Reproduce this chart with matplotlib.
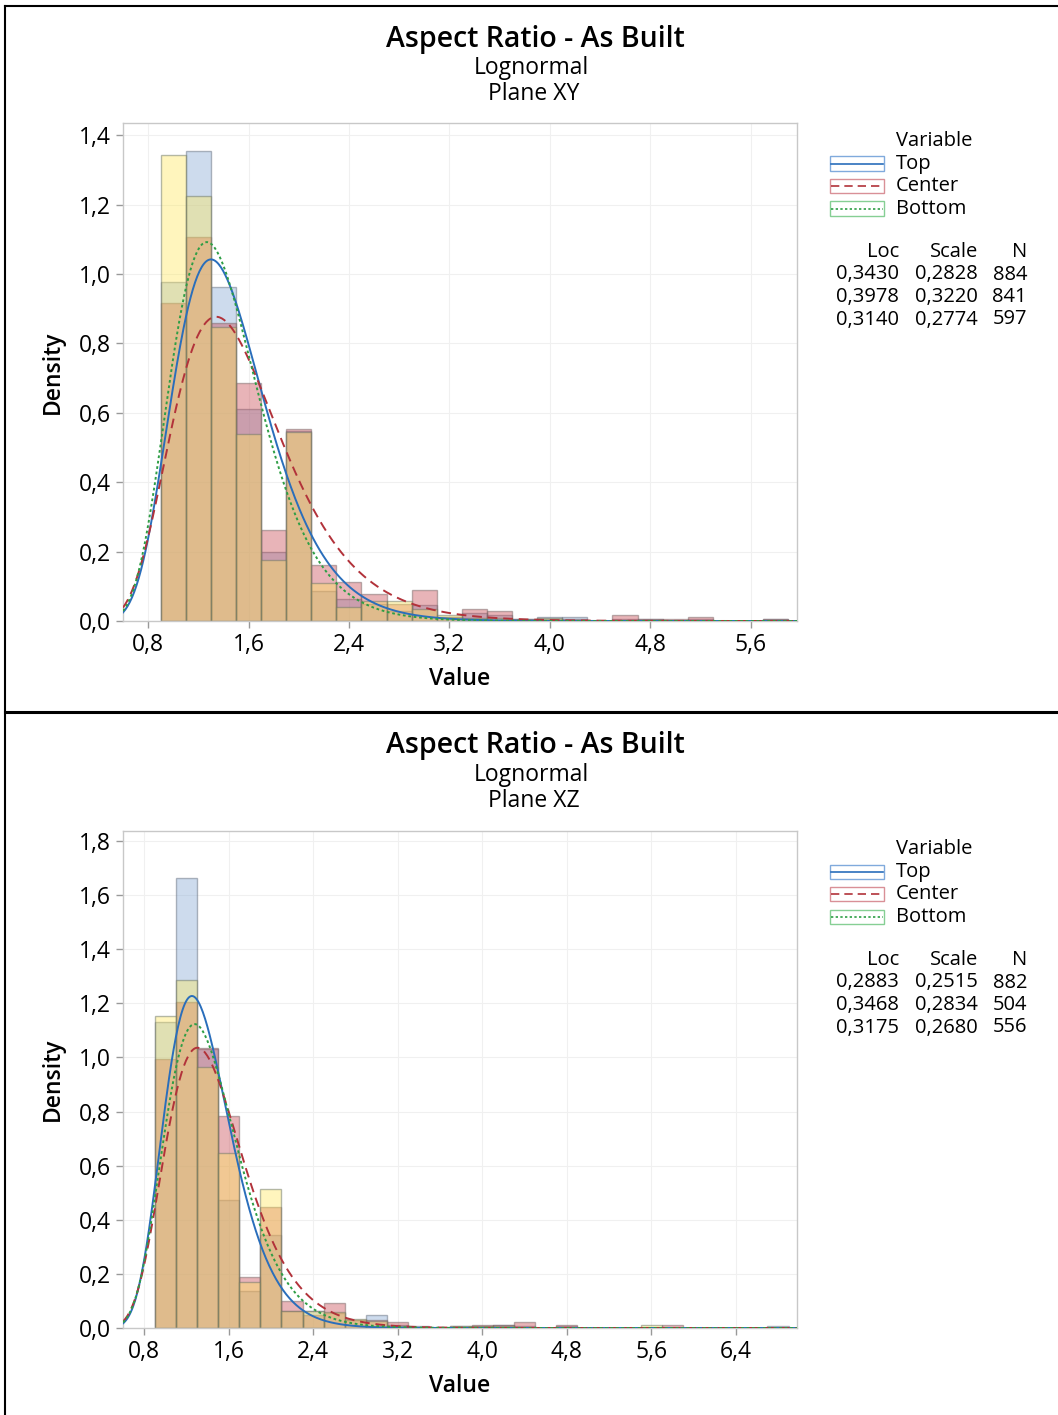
import numpy as np
import matplotlib
matplotlib.use("Agg")
import matplotlib.pyplot as plt
from matplotlib.patches import Rectangle
from matplotlib.lines import Line2D
from matplotlib.ticker import FuncFormatter, MultipleLocator

plt.rcParams['font.family'] = ['Open Sans', 'DejaVu Sans']

# ---------------- data ----------------
series = ["Top", "Center", "Bottom"]
bin_width = 0.2
first_bin = 0.9

# Plane XY densities (bins 0.9-1.1, 1.1-1.3, ... , 5.7-5.9)
xy_top = [0.978, 1.354, 0.962, 0.612, 0.198, 0.548, 0.086, 0.062, 0.050, 0.030,
          0.046, 0.011, 0.023, 0.017, 0.006, 0.011, 0.011, 0.0, 0.006, 0.006,
          0.0, 0.006, 0.0, 0.0, 0.006]
xy_center = [0.917, 1.106, 0.858, 0.685, 0.262, 0.553, 0.161, 0.113, 0.077, 0.048,
             0.089, 0.012, 0.036, 0.030, 0.006, 0.006, 0.006, 0.0, 0.018, 0.006,
             0.006, 0.012, 0.0, 0.0, 0.006]
xy_bottom = [1.343, 1.224, 0.848, 0.538, 0.176, 0.546, 0.109, 0.041, 0.059, 0.059,
             0.034, 0.017, 0.008, 0.008, 0.0, 0.008, 0.0, 0.0, 0.0, 0.0,
             0.0, 0.0, 0.0, 0.0, 0.0]
xy_loc = [0.3430, 0.3978, 0.3140]
xy_scale = [0.2828, 0.3220, 0.2774]
xy_n = [884, 841, 597]

# Plane XZ densities (bins 0.9-1.1, ... , 6.7-6.9)
xz_top = [1.132, 1.662, 1.030, 0.473, 0.138, 0.342, 0.064, 0.064, 0.054, 0.028,
          0.048, 0.011, 0.006, 0.0, 0.006, 0.006, 0.011, 0.006, 0.0, 0.006,
          0.0, 0.0, 0.0, 0.0, 0.0, 0.0, 0.0, 0.0, 0.0, 0.006]
xz_center = [0.995, 1.204, 1.034, 0.785, 0.190, 0.448, 0.101, 0.048, 0.091, 0.030,
             0.030, 0.022, 0.0, 0.0, 0.0, 0.010, 0.010, 0.022, 0.0, 0.010,
             0.0, 0.0, 0.0, 0.0, 0.010, 0.0, 0.0, 0.0, 0.0, 0.0]
xz_bottom = [1.153, 1.287, 0.963, 0.648, 0.171, 0.514, 0.064, 0.064, 0.058, 0.032,
             0.027, 0.009, 0.0, 0.0, 0.009, 0.009, 0.009, 0.0, 0.0, 0.0,
             0.0, 0.0, 0.0, 0.011, 0.0, 0.0, 0.0, 0.0, 0.0, 0.0]
xz_loc = [0.2883, 0.3468, 0.3175]
xz_scale = [0.2515, 0.2834, 0.2680]
xz_n = [882, 504, 556]

# ---------------- style ----------------
W, H = 1058, 1415
fill_colors = [(0.51, 0.655, 0.833, 0.4), (0.775, 0.265, 0.305, 0.4), (1.0, 0.91, 0.36, 0.4)]
edge_colors = [(0.40, 0.44, 0.50, 0.5), (0.48, 0.40, 0.40, 0.5), (0.42, 0.46, 0.40, 0.5)]
curve_colors = ["#2a6ebb", "#b2323a", "#2e9e45"]
curve_dashes = [None, (5, 3), (1.4, 1.4)]
legend_edge = ["#80aadc", "#d99097", "#86cf94"]

fig = plt.figure(figsize=(W / 100, H / 100), dpi=100)


def fx(px):
    return px / W


def fy(py):
    return 1 - py / H


def fmt(v, pos):
    return f"{v:.1f}".replace(".", ",")


def lognorm_pdf(x, mu, s):
    return np.exp(-(np.log(x) - mu) ** 2 / (2 * s * s)) / (x * s * np.sqrt(2 * np.pi))


LEG_FS = 14.5


def panel(ax_rect, data, locs, scales, ns, xlim, ylim, ystep, title_y, subtitle, leg_y, tbl_y):
    ax = fig.add_axes(ax_rect)
    nb = len(data[0])
    lefts = first_bin + bin_width * np.arange(nb)
    for i in range(3):
        ax.bar(lefts, data[i], width=bin_width, align="edge",
               facecolor=fill_colors[i], edgecolor=edge_colors[i], linewidth=1.0, zorder=2)
    xs = np.linspace(xlim[0], xlim[1], 600)
    for i in range(3):
        ln, = ax.plot(xs, lognorm_pdf(xs, locs[i], scales[i]), color=curve_colors[i],
                      lw=1.4, zorder=3)
        if curve_dashes[i] is not None:
            ln.set_dashes(curve_dashes[i])
    ax.set_xlim(*xlim)
    ax.set_ylim(*ylim)
    ax.xaxis.set_major_locator(MultipleLocator(0.8))
    ax.yaxis.set_major_locator(MultipleLocator(ystep))
    ax.xaxis.set_major_formatter(FuncFormatter(fmt))
    ax.yaxis.set_major_formatter(FuncFormatter(fmt))
    ax.grid(True, color="#f0f0f0", lw=0.8, zorder=0)
    ax.set_axisbelow(True)
    for sp in ax.spines.values():
        sp.set_color("#c8c8c8")
        sp.set_linewidth(1.0)
    ax.tick_params(axis="both", colors="#999999", labelcolor="black", labelsize=16.5,
                   length=5, width=1)
    ax.set_xlabel("Value", fontsize=16.5, fontweight="semibold", labelpad=7)
    ax.set_ylabel("Density", fontsize=16.5, fontweight="semibold", labelpad=10)

    # titles
    fig.text(fx(535), fy(title_y), "Aspect Ratio - As Built", ha="center", va="center",
             fontsize=20.5, fontweight="semibold")
    fig.text(fx(531), fy(title_y + 29), "Lognormal", ha="center", va="center", fontsize=16.5)
    fig.text(fx(534), fy(title_y + 55), subtitle, ha="center", va="center", fontsize=16.5)

    # legend
    fig.text(fx(896), fy(leg_y), "Variable", ha="left", va="center", fontsize=LEG_FS)
    for i in range(3):
        yy = leg_y + 22.5 * (i + 1)
        fig.add_artist(Rectangle((fx(830), fy(yy + 7)), fx(884) - fx(830), fy(yy - 7) - fy(yy + 7),
                                 transform=fig.transFigure, facecolor="white",
                                 edgecolor=legend_edge[i], lw=1.0))
        ln = Line2D([fx(831), fx(883)], [fy(yy), fy(yy)], transform=fig.transFigure,
                    color=curve_colors[i], lw=1.2)
        if curve_dashes[i] is not None:
            ln.set_dashes(curve_dashes[i])
        fig.add_artist(ln)
        fig.text(fx(896), fy(yy), series[i], ha="left", va="center", fontsize=LEG_FS)

    # table
    cols_x = [899, 978, 1027]
    heads = ["Loc", "Scale", "N"]
    for c in range(3):
        fig.text(fx(cols_x[c]), fy(tbl_y), heads[c], ha="right", va="center", fontsize=LEG_FS)
    for i in range(3):
        yy = tbl_y + 22.5 * (i + 1)
        vals = [f"{locs[i]:.4f}".replace(".", ","), f"{scales[i]:.4f}".replace(".", ","), f"{ns[i]}"]
        for c in range(3):
            fig.text(fx(cols_x[c]), fy(yy), vals[c], ha="right", va="center", fontsize=LEG_FS)
    return ax


panel([fx(123), fy(621), fx(797) - fx(123), fy(123) - fy(621)],
      [xy_top, xy_center, xy_bottom], xy_loc, xy_scale, xy_n,
      (0.6, 5.97), (0, 1.435), 0.2, 39, "Plane XY", 141, 252)

panel([fx(123), fy(1328), fx(797) - fx(123), fy(831) - fy(1328)],
      [xz_top, xz_center, xz_bottom], xz_loc, xz_scale, xz_n,
      (0.6, 6.98), (0, 1.837), 0.2, 746, "Plane XZ", 849, 960)

# frame lines
fig.add_artist(Line2D([fx(5), fx(W)], [fy(6), fy(6)], transform=fig.transFigure, color="black", lw=1.5))
fig.add_artist(Line2D([fx(5), fx(5)], [fy(6), fy(H)], transform=fig.transFigure, color="black", lw=1.5))
fig.add_artist(Line2D([fx(5), fx(W)], [fy(712), fy(712)], transform=fig.transFigure, color="black", lw=2.2))

fig.savefig("out.png", dpi=100)
